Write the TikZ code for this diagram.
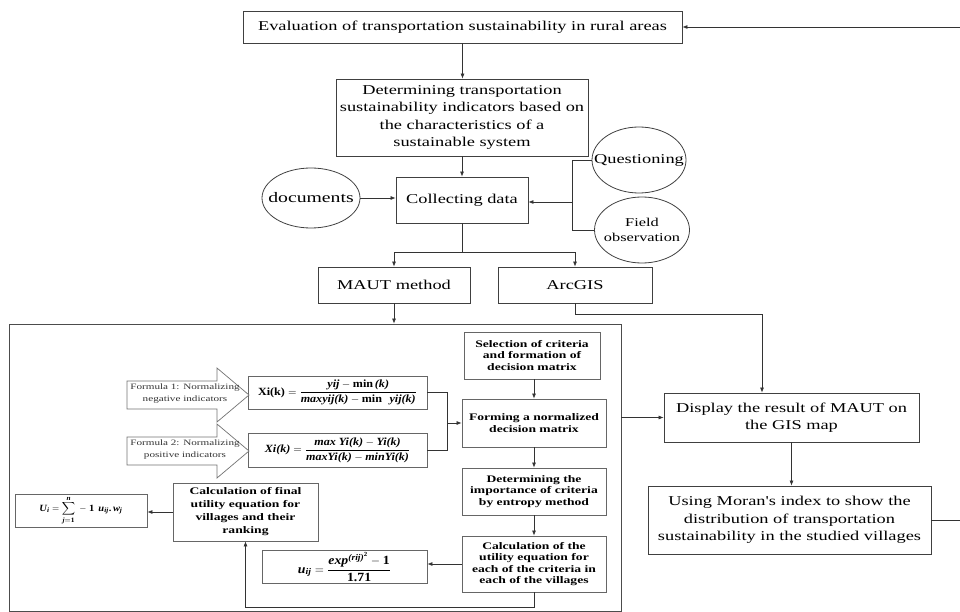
\documentclass[tikz,border=0pt]{standalone}
\usepackage{amsmath}
\usepackage[no-math]{fontspec}
\setmainfont{Liberation Serif}[FakeStretch=1.36]
\newfontfamily\straight{Liberation Serif}[FakeStretch=1.36]
\newfontfamily\eqfont{Liberation Serif}[FakeStretch=1.1]
\usetikzlibrary{arrows.meta,shapes.geometric}
\newcommand{\bv}[1]{\text{\eqfont\bfseries\itshape #1}}
\newcommand{\bu}[1]{\text{\eqfont\bfseries #1}}
\newcommand{\eqXa}{$\bu{Xi(k)} = \displaystyle\frac{\bv{yij} - \bu{min}\,\bv{(k)}}{\bv{maxyij(k)} - \bu{min}\ \ \bv{yij(k)}}$}
\newcommand{\eqXb}{$\bv{Xi(k)} = \displaystyle\frac{\bv{max Yi(k)} - \bv{Yi(k)}}{\bv{maxYi(k)} - \bv{minYi(k)}}$}
\newcommand{\eqUij}{$\bv{u}_{\bv{ij}} = \displaystyle\frac{\bv{exp}^{\bv{(rij)}^{\bu{2}}} - \bu{1}}{\bu{1.71}}$}
\newcommand{\eqUi}{$\bv{U}_{\bv{i}} = \displaystyle\sum_{\bv{j}=\bu{1}}^{\bv{n}} \;-\; \bu{1}\;\, \bv{u}_{\bv{ij}}\bu{.}\,\bv{w}_{\bv{j}}$}
\begin{document}
\begin{tikzpicture}[x=1pt,y=-1pt,
  box/.style={draw=black!75, line width=0.8pt, inner sep=0pt, align=center,
    font=\fontsize{13.5}{17.5}\selectfont},
  bbox/.style={draw=black!60, line width=0.8pt, inner sep=0pt, align=center,
    font=\bfseries\fontsize{10}{11.5}\selectfont},
  ebox/.style={draw=black!60, line width=0.8pt, inner sep=0pt, align=center,
    font=\fontsize{11}{12}\selectfont},
  oval/.style={draw=black!75, line width=0.8pt, ellipse, inner sep=0pt},
  otext/.style={inner sep=0pt, align=center},
  conn/.style={draw=black!80, line width=0.7pt},
  arr/.style={conn, -{Latex[length=5pt,width=4pt]}},
  fshape/.style={draw=black!55, fill=white, line width=0.7pt},
  ftext/.style={inner sep=0pt, align=center, text=black!80, font=\fontsize{8.2}{12}\selectfont},
]
\useasboundingbox (0,0) rectangle (960,612);

% upper part
\node[box, minimum width=439, minimum height=32] (top) at (462.5,27)
  {Evaluation of transportation sustainability in rural areas};
\node[box, minimum width=252, minimum height=77] (det) at (462,117.5)
  {Determining transportation\\sustainability indicators based on\\the characteristics of a\\sustainable system};
\node[box, minimum width=132, minimum height=46] (coll) at (462,200) {Collecting data};

\node[oval, minimum width=98, minimum height=60] (docs) at (311,198) {};
\node[otext, font=\fontsize{14.5}{17}\selectfont] (docst) at (docs) {documents};
\node[oval, minimum width=94, minimum height=66] (quest) at (639,160) {};
\node[otext, font=\fontsize{13.5}{17}\selectfont] (questt) at (quest) {Questioning};
\node[oval, minimum width=95, minimum height=66] (field) at (642,230) {};
\node[otext, font=\fontsize{12}{15}\selectfont] (fieldt) at (field) {Field\\observation};

\node[box, minimum width=152, minimum height=36] (maut) at (394,285) {MAUT method};
\node[box, minimum width=154, minimum height=36] (arcgis) at (575,285) {ArcGIS};
\node[box, minimum width=255, minimum height=49] (disp) at (791.5,417.5) {Display the result of MAUT on\\the GIS map};
\node[box, minimum width=283, minimum height=68] (moran) at (789.5,520)
  {Using Moran{\straight '}s index to show the\\distribution of transportation\\sustainability in the studied villages};

% big frame
\node[draw=black!70, line width=0.8pt, inner sep=0pt, minimum width=612, minimum height=287] (big) at (315,467.5) {};

% inner boxes
\node[bbox, minimum width=136, minimum height=47] (sel) at (532,355.5) {Selection of criteria\\and formation of\\decision matrix};
\node[bbox, minimum width=144, minimum height=48] (form) at (534,423) {Forming a normalized\\decision matrix};
\node[bbox, minimum width=144, minimum height=47] (detimp) at (534,491.5) {Determining the\\importance of criteria\\by entropy method};
\node[bbox, minimum width=144, minimum height=56] (calcu) at (534,564) {Calculation of the\\utility equation for\\each of the criteria in\\each of the villages};
\node[bbox, minimum width=145, minimum height=58, font=\bfseries\fontsize{10}{13}\selectfont] (calcf) at (245.5,512) {Calculation of final\\utility equation for\\villages and their\\ranking};

\node[ebox, minimum width=179, minimum height=33] (eqa) at (337.5,392.5) {\eqXa};
\node[ebox, minimum width=179, minimum height=34] (eqb) at (337.5,450) {\eqXb};
\node[ebox, minimum width=165, minimum height=33, font=\fontsize{12.5}{14}\selectfont] (uij) at (344.5,567) {\eqUij};
\node[ebox, minimum width=132, minimum height=33, font=\fontsize{9.5}{10}\selectfont] (ui) at (81,510.5) {\eqUi};

% formula arrow shapes
\draw[fshape] (127,381) -- (217,381) -- (217,368) -- (249,395) -- (217,422) -- (217,409) -- (127,409) -- cycle;
\node[ftext] (f1) at (185,394) {Formula 1: Normalizing\\negative indicators};
\draw[fshape] (127,437) -- (217,437) -- (217,424) -- (249,451) -- (217,478) -- (217,465) -- (127,465) -- cycle;
\node[ftext] (f2) at (185,450) {Formula 2: Normalizing\\positive indicators};

% connectors upper
\draw[arr] (top.south) -- (top.south |- det.north);
\draw[arr] (det.south) -- (det.south |- coll.north);
\draw[arr] (docs.east) -- (docs.east -| coll.west);
\coordinate (bx) at (572,202);
\draw[conn] (quest.west) -- (quest.west -| bx) -- (field.west -| bx) -- (field.west);
\draw[arr] (bx) -- (bx -| coll.east);
\coordinate (sp) at (462,252);
\draw[conn] (coll.south) -- (sp);
\draw[conn] (maut.north |- sp) -- (arcgis.north |- sp);
\draw[arr] (maut.north |- sp) -- (maut.north);
\draw[arr] (arcgis.north |- sp) -- (arcgis.north);
\draw[arr] (maut.south) -- (maut.south |- big.north);
\coordinate (ag) at (762,314);
\draw[arr] (arcgis.south) -- (arcgis.south |- ag) -- (ag) -- (ag |- disp.north);
\draw[arr] (big.east |- disp.west) -- (disp.west);
\draw[arr] (disp.south) -- (disp.south |- moran.north);
\coordinate (re1) at (960,27);
\coordinate (re2) at (960,520);
\draw[conn] (moran.east) -- (moran.east -| re2);
\draw[arr] (re1) -- (top.east);

% connectors inner
\draw[arr] (form.north |- sel.south) -- (form.north);
\coordinate (mj) at (447,423);
\draw[conn] (eqa.east) -- (eqa.east -| mj) -- (eqb.east -| mj) -- (eqb.east);
\draw[arr] (mj) -- (form.west);
\draw[arr] (form.south) -- (detimp.north);
\draw[arr] (detimp.south) -- (calcu.north);
\draw[arr] (calcu.west) -- (calcu.west -| uij.east);
\coordinate (fb) at (535,607);
\draw[arr] (calcu.south) -- (calcu.south |- fb) -- (calcf.south |- fb) -- (calcf.south);
\draw[arr] (calcf.west) -- (calcf.west -| ui.east);
\end{tikzpicture}
\end{document}
